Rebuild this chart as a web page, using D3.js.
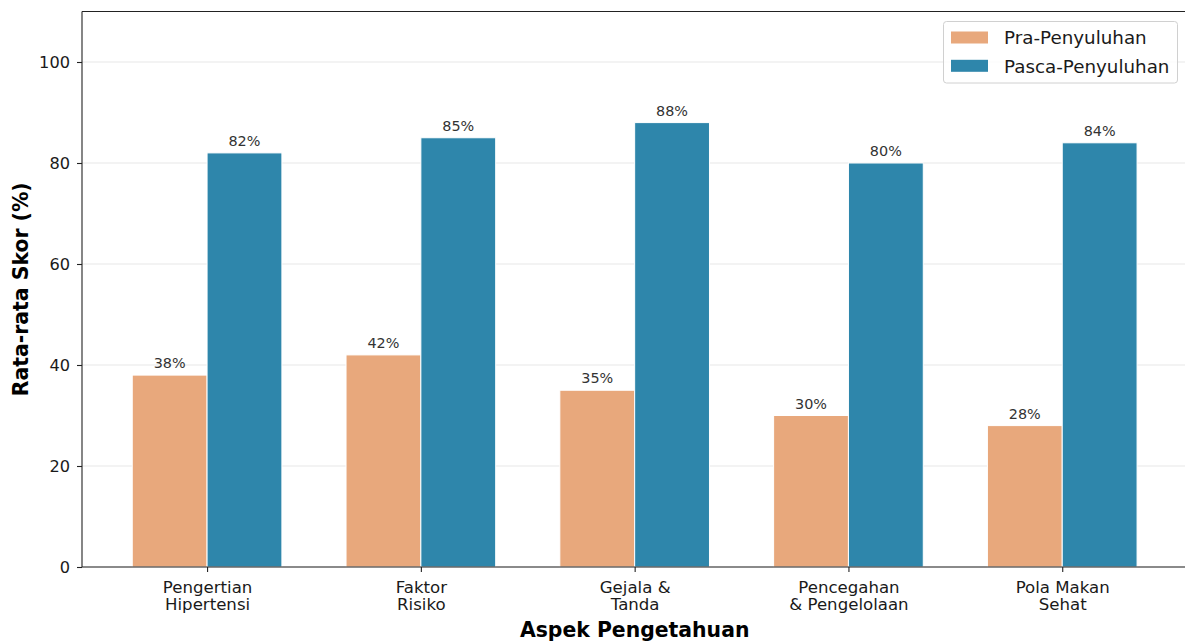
<!DOCTYPE html>
<html><head><meta charset="utf-8">
<script src="https://cdn.jsdelivr.net/npm/d3@7"></script>
<style>
html,body{margin:0;padding:0;background:#fff;}
svg{display:block;}
svg text{font-family:"DejaVu Sans",sans-serif;}
</style></head>
<body>
<svg id="chart" width="1185" height="641"></svg>
<script>
const categories = ["Pengertian\nHipertensi", "Faktor\nRisiko", "Gejala &\nTanda", "Pencegahan\n& Pengelolaan", "Pola Makan\nSehat"];
const seriesNames = ["Pra-Penyuluhan", "Pasca-Penyuluhan"];
const preValues = [38, 42, 35, 30, 28];
const postValues = [82, 85, 88, 80, 84];
const yTicks = [0, 20, 40, 60, 80, 100];
const colors = ["#E8A87C", "#2E86AB"];

(function () {
const svg = d3.select("#chart");
const mL = 82, mR = 1187.3, mT = 11.5, mB = 567;
const barW = 0.35;
const x = d3.scaleLinear().domain([-0.585, 4.585]).range([mL, mR]);
const y = d3.scaleLinear().domain([0, 110]).range([mB, mT]);

// grid
svg.append("g").selectAll("line").data(yTicks).join("line")
  .attr("x1", mL).attr("x2", mR)
  .attr("y1", d => y(d)).attr("y2", d => y(d))
  .attr("stroke", "#b0b0b0").attr("stroke-opacity", 0.3).attr("stroke-width", 1);

const series = [preValues, postValues];
series.forEach((vals, si) => {
  const offset = si === 0 ? -barW / 2 : barW / 2;
  const g = svg.append("g");
  g.selectAll("rect").data(vals).join("rect")
    .attr("x", (d, i) => x(i + offset - barW / 2))
    .attr("width", x(barW) - x(0))
    .attr("y", d => y(d))
    .attr("height", d => y(0) - y(d))
    .attr("fill", colors[si])
    .attr("stroke", "#fff").attr("stroke-width", 1);
  g.selectAll("text").data(vals).join("text")
    .attr("x", (d, i) => x(i + offset))
    .attr("y", d => y(d) - 7)
    .attr("text-anchor", "middle")
    .attr("font-size", "14.4px")
    .attr("fill", "#333")
    .text(d => d + "%");
});

// axes
const xAxis = d3.axisBottom(x).tickValues(d3.range(categories.length)).tickSize(5).tickFormat("");
const xg = svg.append("g").attr("transform", `translate(0,${mB})`).call(xAxis);
xg.attr("font-family", null).attr("font-size", null);
xg.select(".domain").attr("stroke", "#222").attr("stroke-width", 1.1).attr("d", `M${mL},0H${mR}`);
xg.selectAll(".tick line").attr("stroke", "#222").attr("stroke-width", 1.1);
xg.selectAll(".tick text").remove();
xg.selectAll(".tick").each(function (d) {
  const lines = categories[d].split("\n");
  const t = d3.select(this).append("text")
    .attr("fill", "#1a1a1a").attr("font-size", "16.6px").attr("text-anchor", "middle");
  lines.forEach((ln, k) => {
    t.append("tspan").attr("x", 0).attr("y", 25.5 + k * 17.8).text(ln);
  });
});

const yAxis = d3.axisLeft(y).tickValues(yTicks).tickSize(5).tickPadding(7);
const yg = svg.append("g").attr("transform", `translate(${mL},0)`).call(yAxis);
yg.attr("font-family", null).attr("font-size", null);
yg.select(".domain").attr("stroke", "#222").attr("stroke-width", 1.1).attr("d", `M0,${mB}V${mT}`);
yg.selectAll(".tick line").attr("stroke", "#222").attr("stroke-width", 1.1);
yg.selectAll(".tick text").attr("font-size", "16.2px").attr("fill", "#1a1a1a");

// top & right spines
svg.append("line").attr("x1", mL).attr("x2", mR).attr("y1", mT).attr("y2", mT)
  .attr("stroke", "#222").attr("stroke-width", 1.1);
svg.append("line").attr("x1", mR).attr("x2", mR).attr("y1", mT).attr("y2", mB)
  .attr("stroke", "#222").attr("stroke-width", 1.1);

// axis labels
svg.append("text").attr("x", (mL + mR) / 2).attr("y", 637)
  .attr("text-anchor", "middle").attr("font-size", "20.4px").attr("font-weight", "bold")
  .attr("fill", "#000").text("Aspek Pengetahuan");
svg.append("text").attr("transform", `translate(28,${(mT + mB) / 2}) rotate(-90)`)
  .attr("text-anchor", "middle").attr("font-size", "20.4px").attr("font-weight", "bold")
  .attr("fill", "#000").text("Rata-rata Skor (%)");

// legend
const lg = svg.append("g");
lg.append("rect").attr("x", 943.5).attr("y", 21.5).attr("width", 234).attr("height", 61.5)
  .attr("rx", 3).attr("fill", "#fff").attr("fill-opacity", 0.8)
  .attr("stroke", "#d0d0d0").attr("stroke-width", 1);
seriesNames.forEach((nm, i) => {
  lg.append("rect").attr("x", 951).attr("y", 31.5 + i * 28.3).attr("width", 37).attr("height", 12)
    .attr("fill", colors[i]);
  lg.append("text").attr("x", 1004).attr("y", 44.3 + i * 28.3)
    .attr("font-size", "18.3px").attr("fill", "#1a1a1a").text(nm);
});
})();
</script>
</body></html>
